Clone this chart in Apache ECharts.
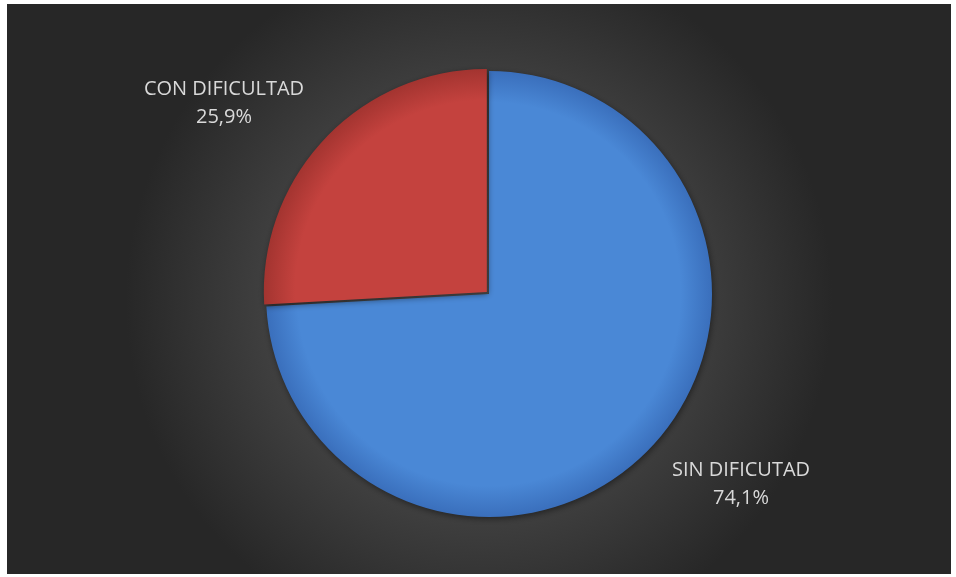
<!DOCTYPE html>
<html>
<head>
<meta charset="utf-8">
<script src="https://cdn.jsdelivr.net/npm/echarts@6/dist/echarts.min.js"></script>
<style>
  html, body { margin: 0; padding: 0; background: #ffffff; }
  #chart { width: 956px; height: 577px; }
</style>
</head>
<body>
<div id="chart"></div>
<script>
// Share of respondents with / without difficulty
const categories = ['SIN DIFICUTAD', 'CON DIFICULTAD'];
const shareValues = [74.1, 25.9];
const shareLabels = ['74,1%', '25,9%'];

const PIE_CENTER = [489, 294];
const PIE_RADIUS = 223;

const sliceColors = [
  { inner: '#4a88d6', outer: '#3a6fbc' },
  { inner: '#c4423e', outer: '#a33430' }
];

// label anchor points (centre of each two-line label)
const labelAnchors = [
  { x: 741, y: 484 },
  { x: 224, y: 103 }
];

const chart = echarts.init(document.getElementById('chart'), null, { renderer: 'canvas' });

const data = categories.map((name, i) => ({
  name: name,
  value: shareValues[i],
  selected: i === 1,
  itemStyle: {
    // gradient in chart pixels so each slice darkens toward the rim of the disc
    color: new echarts.graphic.RadialGradient(PIE_CENTER[0], PIE_CENTER[1], PIE_RADIUS, [
      { offset: 0, color: sliceColors[i].inner },
      { offset: 0.86, color: sliceColors[i].inner },
      { offset: 1, color: sliceColors[i].outer }
    ], true)
  }
}));

const labelTexts = categories.map((name, i) => ({
  type: 'text',
  silent: true,
  z: 10,
  x: labelAnchors[i].x,
  y: labelAnchors[i].y,
  style: {
    text: name + '\n' + shareLabels[i],
    fill: '#d9d9d9',
    font: '20px "Open Sans"',
    lineHeight: 28,
    align: 'center',
    verticalAlign: 'middle'
  }
}));

chart.setOption({
  animation: false,
  backgroundColor: '#ffffff',
  graphic: [{
    type: 'rect',
    z: -10,
    silent: true,
    shape: { x: 7, y: 4, width: 944, height: 570 },
    style: {
      fill: new echarts.graphic.RadialGradient(0.5, 0.52, 0.62, [
        { offset: 0, color: '#595959' },
        { offset: 0.55, color: '#434343' },
        { offset: 1, color: '#272727' }
      ])
    }
  }].concat(labelTexts),
  series: [{
    type: 'pie',
    center: PIE_CENTER,
    radius: [0, PIE_RADIUS],
    startAngle: 90,
    clockwise: true,
    selectedMode: 'single',
    selectedOffset: 3,
    silent: true,
    itemStyle: {
      borderWidth: 0,
      shadowBlur: 6,
      shadowColor: 'rgba(0,0,0,0.45)',
      shadowOffsetX: 1,
      shadowOffsetY: 2
    },
    select: { itemStyle: {} },
    label: { show: false },
    labelLine: { show: false },
    data: data
  }]
});
</script>
</body>
</html>
